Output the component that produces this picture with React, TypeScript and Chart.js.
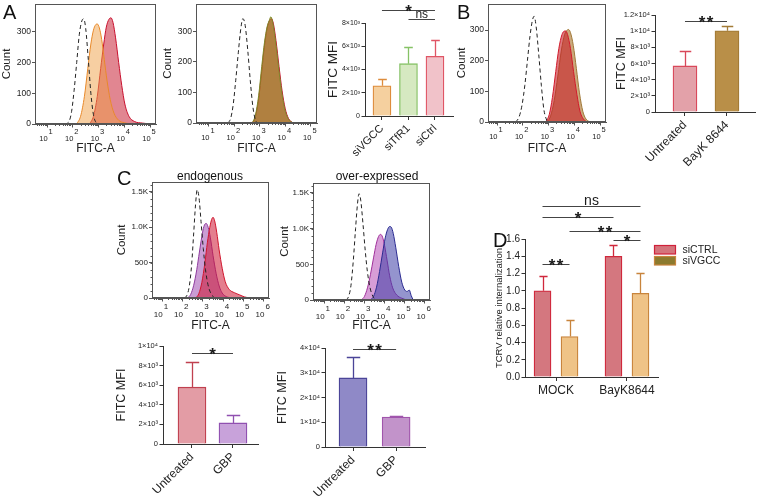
import React, { useEffect, useRef } from 'react';
import { Chart, registerables } from 'chart.js';

Chart.register(...registerables);

const FONT = "'Liberation Sans', Arial, Helvetica, sans-serif";
Chart.defaults.font.family = FONT;
Chart.defaults.color = '#222';
const AXIS = '#555';
const BAR_AXIS = '#333';

// ---------------- Histogram data (x = log10 FITC-A, y = cell count) ----------------
const decadesAB = [1, 2, 3, 4, 5];
const decadesC = [1, 2, 3, 4, 5, 6];
const countTicksAB = [0, 100, 200, 300];
const countTickLabelsAB = ['0', '100', '200', '300'];
const countTicksC = [0, 500, 1000, 1500];
const countTickLabelsC = ['0', '500', '1.0K', '1.5K'];

// Panel A, left histogram
const a1IsoX = [1.70, 1.85, 1.95, 2.05, 2.15, 2.25, 2.35, 2.42, 2.50, 2.60, 2.70, 2.80, 2.90, 3.00];
const a1IsoY = [0, 8, 40, 110, 200, 290, 335, 342, 310, 210, 100, 30, 5, 0];
const a1SiVGCCX = [2.15, 2.30, 2.45, 2.58, 2.70, 2.80, 2.88, 2.95, 3.03, 3.12, 3.22, 3.33, 3.45, 3.60, 3.78, 4.00, 4.30];
const a1SiVGCCY = [0, 25, 90, 180, 260, 305, 322, 325, 312, 275, 210, 140, 80, 35, 12, 4, 0];
const a1SiCtrlX = [2.65, 2.80, 2.95, 3.08, 3.20, 3.30, 3.40, 3.48, 3.56, 3.66, 3.78, 3.90, 4.02, 4.18, 4.40, 4.70, 5.00];
const a1SiCtrlY = [0, 25, 90, 180, 260, 315, 340, 345, 330, 280, 200, 125, 65, 25, 8, 3, 0];

// Panel A, middle histogram
const a2IsoX = [1.75, 1.85, 1.95, 2.05, 2.15, 2.25, 2.33, 2.42, 2.52, 2.62, 2.72, 2.82, 2.92];
const a2IsoY = [0, 15, 60, 140, 230, 310, 342, 320, 240, 140, 55, 10, 0];
const a2SiTfR1X = [2.70, 2.82, 2.95, 3.07, 3.18, 3.28, 3.36, 3.43, 3.50, 3.60, 3.72, 3.84, 3.96, 4.10, 4.30];
const a2SiTfR1Y = [0, 25, 90, 185, 265, 315, 335, 348, 330, 275, 190, 110, 50, 15, 0];
const a2SiCtrlX = [2.70, 2.82, 2.95, 3.07, 3.18, 3.28, 3.37, 3.45, 3.53, 3.63, 3.75, 3.87, 3.99, 4.12, 4.30];
const a2SiCtrlY = [0, 20, 80, 170, 255, 310, 335, 342, 325, 270, 185, 105, 48, 15, 0];

// Panel B histogram
const bIsoX = [1.72, 1.85, 1.97, 2.08, 2.18, 2.28, 2.37, 2.44, 2.52, 2.62, 2.72, 2.82, 2.95];
const bIsoY = [0, 15, 55, 120, 200, 280, 330, 345, 310, 220, 120, 40, 0];
const bUntreatedX = [2.90, 3.03, 3.15, 3.28, 3.40, 3.52, 3.60, 3.66, 3.74, 3.85, 3.97, 4.10, 4.22, 4.35, 4.50];
const bUntreatedY = [0, 25, 80, 165, 240, 285, 296, 297, 285, 240, 165, 90, 35, 10, 0];
const bBayKX = [2.95, 3.08, 3.22, 3.36, 3.50, 3.62, 3.70, 3.77, 3.85, 3.96, 4.08, 4.20, 4.33, 4.45, 4.60];
const bBayKY = [0, 20, 70, 150, 235, 285, 298, 302, 292, 250, 175, 95, 35, 10, 0];

// Panel C, endogenous
const cEndoIsoX = [2.10, 2.22, 2.34, 2.45, 2.55, 2.64, 2.72, 2.81, 2.91, 3.02, 3.13, 3.25, 3.40, 3.58];
const cEndoIsoY = [0, 40, 180, 480, 920, 1320, 1530, 1420, 1080, 700, 400, 190, 60, 0];
const cEndoGBPX = [2.25, 2.40, 2.55, 2.70, 2.83, 2.95, 3.05, 3.16, 3.26, 3.37, 3.50, 3.65, 3.80, 3.95, 4.15, 4.45];
const cEndoGBPY = [0, 50, 180, 400, 650, 870, 1010, 1055, 1000, 850, 600, 350, 170, 70, 20, 0];
const cEndoUntreatedX = [2.65, 2.80, 2.95, 3.10, 3.22, 3.34, 3.43, 3.50, 3.58, 3.68, 3.80, 3.95, 4.10, 4.30, 4.55, 4.80, 5.05, 5.30];
const cEndoUntreatedY = [0, 60, 220, 500, 780, 1000, 1110, 1140, 1090, 930, 680, 420, 230, 120, 75, 45, 15, 0];

// Panel C, over-expressed
const cOverIsoX = [2.08, 2.20, 2.33, 2.45, 2.56, 2.65, 2.73, 2.82, 2.93, 3.04, 3.15, 3.28, 3.43, 3.60];
const cOverIsoY = [0, 40, 200, 560, 1000, 1330, 1490, 1390, 1060, 690, 390, 170, 45, 0];
const cOverGBPX = [2.85, 3.00, 3.15, 3.30, 3.45, 3.58, 3.70, 3.80, 3.90, 4.00, 4.12, 4.25, 4.40, 4.60, 4.85, 5.10];
const cOverGBPY = [0, 50, 170, 360, 590, 780, 890, 920, 880, 760, 560, 340, 170, 70, 25, 0];
const cOverUntreatedX = [3.30, 3.45, 3.60, 3.75, 3.90, 4.03, 4.15, 4.25, 4.33, 4.43, 4.55, 4.70, 4.85, 5.00, 5.12, 5.22, 5.32, 5.42];
const cOverUntreatedY = [0, 50, 180, 400, 660, 870, 990, 1030, 1020, 930, 740, 470, 250, 140, 120, 140, 60, 0];

// ---------------- Bar chart data ----------------
const aCategories = ['siVGCC', 'siTfR1', 'siCtrl'];
const aMFI = [2600, 4500, 5130];
const aMFIErr = [600, 1400, 1370];
const aTicks = [0, 2000, 4000, 6000, 8000];
const aTickLabels = ['0', '2×10³', '4×10³', '6×10³', '8×10³'];

const bCategories = ['Untreated', 'BayK 8644'];
const bMFI = [5700, 10050];
const bMFIErr = [1850, 630];
const bTicks = [0, 2000, 4000, 6000, 8000, 10000, 12000];
const bTickLabels = ['0', '2×10³', '4×10³', '6×10³', '8×10³', '1×10⁴', '1.2×10⁴'];

const cCategories = ['Untreated', 'GBP'];
const cEndoMFI = [5800, 2150];
const cEndoMFIErr = [2550, 800];
const cEndoTicks = [0, 2000, 4000, 6000, 8000, 10000];
const cEndoTickLabels = ['0', '2×10³', '4×10³', '6×10³', '8×10³', '1×10⁴'];
const cOverMFI = [27900, 12100];
const cOverMFIErr = [8500, 400];
const cOverTicks = [0, 10000, 20000, 30000, 40000];
const cOverTickLabels = ['0', '1×10⁴', '2×10⁴', '3×10⁴', '4×10⁴'];

const dCategories = ['MOCK', 'BayK8644'];
const dSeriesNames = ['siCTRL', 'siVGCC'];
const dSiCTRL = [1.0, 1.40];
const dSiCTRLErr = [0.17, 0.13];
const dSiVGCC = [0.47, 0.97];
const dSiVGCCErr = [0.19, 0.24];
const dTicks = [0, 0.2, 0.4, 0.6, 0.8, 1.0, 1.2, 1.4, 1.6];
const dTickLabels = ['0.0', '0.2', '0.4', '0.6', '0.8', '1.0', '1.2', '1.4', '1.6'];

// significance brackets: [category, dataset] ends, height in data units
const aSig = [
  { a: [0, 0], b: [2, 0], y: 9130, text: '*' },
  { a: [1, 0], b: [2, 0], y: 8350, text: 'ns' },
];
const bSig = [{ a: [0, 0], b: [1, 0], y: 11300, text: '**' }];
const cEndoSig = [{ a: [0, 0], b: [1, 0], y: 9300, text: '*' }];
const cOverSig = [{ a: [0, 0], b: [1, 0], y: 39600, text: '**' }];
const dSig = [
  { a: [0, 0], b: [1, 1], y: 1.98, text: 'ns' },
  { a: [0, 0], b: [1, 0], y: 1.855, text: '*' },
  { a: [0, 1], b: [1, 1], y: 1.69, text: '**' },
  { a: [1, 0], b: [1, 1], y: 1.585, text: '*' },
  { a: [0, 0], b: [0, 1], y: 1.305, text: '**' },
];

// ---------------- helpers ----------------
const zip = (xs: number[], ys: number[]) => xs.map((x, i) => ({ x, y: ys[i] }));

function histDecor(decades: number[], yMinor: number | null, base: number, sup: number, fs: number) {
  return {
    id: 'histDecor',
    afterDraw(chart: any) {
      const { ctx, chartArea: a, scales } = chart;
      const x = scales.x, y = scales.y;
      ctx.save();
      ctx.strokeStyle = AXIS;
      ctx.lineWidth = 1;
      const L = Math.round(a.left) + 0.5, R = Math.round(a.right) - 0.5;
      const T = Math.round(a.top) + 0.5, B = Math.round(a.bottom) - 0.5;
      ctx.strokeRect(L, T, R - L, B - T);
      ctx.beginPath();
      for (let d = Math.floor(x.min); d < Math.ceil(x.max); d++) {
        for (let k = 2; k <= 9; k++) {
          const v = d + Math.log10(k);
          if (v <= x.min || v >= x.max) continue;
          const px = Math.round(x.getPixelForValue(v)) + 0.5;
          ctx.moveTo(px, B);
          ctx.lineTo(px, B + 2.5);
        }
      }
      if (yMinor) {
        for (let v = yMinor; v < y.max; v += yMinor) {
          const py = Math.round(y.getPixelForValue(v)) + 0.5;
          ctx.moveTo(L, py);
          ctx.lineTo(L - 2, py);
        }
      }
      ctx.stroke();
      ctx.fillStyle = '#222';
      ctx.textBaseline = 'alphabetic';
      decades.forEach((dv) => {
        const px = x.getPixelForValue(dv);
        ctx.font = `${fs}px ${FONT}`;
        ctx.textAlign = 'right';
        ctx.fillText('10', px + 0.5, a.bottom + base);
        ctx.textAlign = 'left';
        ctx.fillText(String(dv), px + 1.5, a.bottom + sup);
      });
      ctx.restore();
    },
  };
}

type Curve = { label: string; xs: number[]; ys: number[]; fill?: string; stroke: string; dash?: number[] };

function histConfig(p: any): any {
  return {
    type: 'line',
    data: {
      datasets: p.curves.map((c: Curve) => ({
        label: c.label,
        data: zip(c.xs, c.ys),
        borderColor: c.stroke,
        backgroundColor: c.fill || 'rgba(0,0,0,0)',
        fill: c.fill ? 'origin' : false,
        borderDash: c.dash || [],
        borderWidth: 1,
        pointRadius: 0,
        cubicInterpolationMode: 'monotone',
      })),
    },
    options: {
      responsive: false,
      animation: false,
      events: [],
      layout: { padding: { left: 0, top: p.padTop, right: p.padRight, bottom: 0 } },
      plugins: { legend: { display: false }, tooltip: { enabled: false } },
      scales: {
        x: {
          type: 'linear',
          min: p.xMin,
          max: p.xMax,
          afterBuildTicks: (s: any) => { s.ticks = p.decades.map((v: number) => ({ value: v })); },
          afterFit: (s: any) => { s.height = p.xH; s.paddingLeft = 0; s.paddingRight = 0; s.paddingTop = 0; s.paddingBottom = 0; },
          ticks: { display: false },
          grid: { drawOnChartArea: false, drawTicks: true, tickLength: 3.5, color: AXIS },
          border: { color: AXIS },
          title: { display: true, text: 'FITC-A', font: { size: 12 }, padding: { top: 0, bottom: 4 } },
        },
        y: {
          type: 'linear',
          min: 0,
          max: p.yMax,
          afterBuildTicks: (s: any) => { s.ticks = p.yTicks.map((v: number) => ({ value: v })); },
          afterFit: (s: any) => { s.width = p.yW; s.paddingTop = 0; s.paddingBottom = 0; s.paddingLeft = 0; s.paddingRight = 0; },
          ticks: { callback: (_v: any, i: number) => p.yTickLabels[i], font: { size: p.yTickSize }, padding: 1 },
          grid: { drawOnChartArea: false, drawTicks: true, tickLength: 3, color: AXIS },
          border: { color: AXIS },
          title: { display: true, text: 'Count', font: { size: 11.5 }, padding: { top: 0, bottom: 0 } },
        },
      },
    },
    plugins: [histDecor(p.decades, p.yMinor || null, p.labBase, p.labSup, p.labSize)],
  };
}

const errorBars = {
  id: 'errorBars',
  afterDatasetsDraw(chart: any) {
    const ctx = chart.ctx;
    const y = chart.scales.y;
    chart.data.datasets.forEach((ds: any, di: number) => {
      const meta = chart.getDatasetMeta(di);
      meta.data.forEach((bar: any, i: number) => {
        const err = ds.errors ? ds.errors[i] : null;
        if (err == null) return;
        const v = ds.data[i].y;
        const top = Math.round(y.getPixelForValue(v + err)) + 0.5;
        const cap = bar.width * 0.48;
        const cx = Math.round(bar.x) + 0.5;
        ctx.save();
        ctx.strokeStyle = Array.isArray(ds.borderColor) ? ds.borderColor[i] : ds.borderColor;
        ctx.lineWidth = 1.3;
        ctx.beginPath();
        ctx.moveTo(cx, bar.y);
        ctx.lineTo(cx, top);
        ctx.moveTo(cx - cap / 2, top);
        ctx.lineTo(cx + cap / 2, top);
        ctx.stroke();
        ctx.restore();
      });
    });
  },
};

function sigPlugin(items: any[], nsSize: number) {
  return {
    id: 'sigLines',
    afterDraw(chart: any) {
      const ctx = chart.ctx;
      const y = chart.scales.y;
      ctx.save();
      items.forEach((it) => {
        const e1 = chart.getDatasetMeta(it.a[1]).data[it.a[0]];
        const e2 = chart.getDatasetMeta(it.b[1]).data[it.b[0]];
        const x1 = e1.x, x2 = e2.x;
        const py = Math.round(y.getPixelForValue(it.y)) + 0.5;
        ctx.strokeStyle = '#444';
        ctx.lineWidth = 1;
        ctx.beginPath();
        ctx.moveTo(x1, py);
        ctx.lineTo(x2, py);
        ctx.stroke();
        const mx = (x1 + x2) / 2;
        ctx.fillStyle = '#1a1a1a';
        ctx.textBaseline = 'alphabetic';
        ctx.textAlign = 'center';
        if (it.text.indexOf('*') >= 0) {
          ctx.font = `bold 17px ${FONT}`;
          const n = it.text.length;
          const sp = 8;
          for (let k = 0; k < n; k++) {
            ctx.fillText('*', mx + (k - (n - 1) / 2) * sp, py + 6.5);
          }
        } else {
          ctx.font = `${nsSize}px ${FONT}`;
          ctx.fillText(it.text, mx, py - 1.5);
        }
      });
      ctx.restore();
    },
  };
}

function legendPlugin(items: { label: string; fill: string; stroke: string }[]) {
  return {
    id: 'boxLegend',
    afterDraw(chart: any) {
      const { ctx, chartArea: a } = chart;
      ctx.save();
      items.forEach((it, i) => {
        const bx = Math.round(a.right - 4) + 0.5;
        const by = Math.round(a.top + 6 + i * 11) + 0.5;
        ctx.fillStyle = it.fill;
        ctx.fillRect(bx, by, 21, 8.5);
        ctx.strokeStyle = it.stroke;
        ctx.lineWidth = 1.2;
        ctx.strokeRect(bx, by, 21, 8.5);
        ctx.fillStyle = '#222';
        ctx.font = `10.5px ${FONT}`;
        ctx.textAlign = 'left';
        ctx.textBaseline = 'middle';
        ctx.fillText(it.label, bx + 28, by + 4.5);
      });
      ctx.restore();
    },
  };
}

function barConfig(p: any): any {
  return {
    type: 'bar',
    data: {
      datasets: p.series.map((s: any) => ({
        label: s.label,
        data: s.values.map((v: number, i: number) => ({ x: i, y: v })),
        errors: s.errors,
        backgroundColor: s.fill,
        borderColor: s.stroke,
        borderWidth: 1.3,
        barThickness: p.barThickness,
        maxBarThickness: p.maxBarThickness || p.barThickness,
      })),
    },
    options: {
      responsive: false,
      animation: false,
      events: [],
      layout: { padding: { left: 0, top: p.padTop, right: p.padRight, bottom: 0 } },
      plugins: { legend: { display: false }, tooltip: { enabled: false } },
      scales: {
        x: {
          type: 'linear',
          offset: false,
          min: p.xMin,
          max: p.xMax,
          afterBuildTicks: (s: any) => { s.ticks = p.categories.map((_c: string, i: number) => ({ value: i })); },
          afterFit: (s: any) => { s.height = p.xH; s.paddingLeft = 0; s.paddingRight = 0; s.paddingTop = 0; s.paddingBottom = 0; },
          ticks: {
            autoSkip: false,
            callback: (_v: any, i: number) => p.categories[i],
            font: { size: p.xTickSize },
            minRotation: p.rotate ? 45 : 0,
            maxRotation: p.rotate ? 45 : 0,
            padding: 2,
          },
          grid: { drawOnChartArea: false, drawTicks: true, tickLength: 4, color: BAR_AXIS, offset: false },
          border: { color: BAR_AXIS, width: 1 },
        },
        y: {
          type: 'linear',
          min: 0,
          max: p.yMax,
          afterBuildTicks: (s: any) => { s.ticks = p.yTicks.map((v: number) => ({ value: v })); },
          afterFit: (s: any) => { s.width = p.yW; s.paddingTop = 0; s.paddingBottom = 0; s.paddingLeft = 0; s.paddingRight = 0; },
          ticks: { callback: (_v: any, i: number) => p.yTickLabels[i], font: { size: p.yTickSize }, padding: 1.5 },
          grid: { drawOnChartArea: false, drawTicks: true, tickLength: 3.5, color: BAR_AXIS },
          border: { color: BAR_AXIS, width: 1 },
          title: { display: true, text: p.yTitle, font: { size: p.yTitleSize }, padding: { top: p.yTitlePad, bottom: 0 } },
        },
      },
    },
    plugins: [errorBars, sigPlugin(p.sig, p.nsSize || 13)].concat(p.legend ? [legendPlugin(p.legend)] : []),
  };
}

// ---------------- chart configs ----------------
const ISO = { stroke: '#222', dash: [4, 3] };

const makeA1 = () => histConfig({
  curves: [
    { label: 'Isotype', xs: a1IsoX, ys: a1IsoY, ...ISO },
    { label: 'siVGCC', xs: a1SiVGCCX, ys: a1SiVGCCY, fill: 'rgba(240,160,70,0.5)', stroke: '#e8892a' },
    { label: 'siCtrl', xs: a1SiCtrlX, ys: a1SiCtrlY, fill: 'rgba(200,35,55,0.55)', stroke: '#c8102e' },
  ],
  xMin: 0.53, xMax: 5.23, yMax: 390, yTicks: countTicksAB, yTickLabels: countTickLabelsAB, yTickSize: 8.5,
  decades: decadesAB, yW: 35, xH: 36, padTop: 4, padRight: 6, labBase: 16.5, labSup: 9.5, labSize: 7.5,
});

const makeA2 = () => histConfig({
  curves: [
    { label: 'Isotype', xs: a2IsoX, ys: a2IsoY, ...ISO },
    { label: 'siTfR1', xs: a2SiTfR1X, ys: a2SiTfR1Y, fill: 'rgba(135,155,13,0.5)', stroke: '#7f8a2a' },
    { label: 'siCtrl', xs: a2SiCtrlX, ys: a2SiCtrlY, fill: 'rgba(200,35,55,0.7)', stroke: '#c8102e' },
  ],
  xMin: 0.49, xMax: 5.24, yMax: 390, yTicks: countTicksAB, yTickLabels: countTickLabelsAB, yTickSize: 8.5,
  decades: decadesAB, yW: 35, xH: 37, padTop: 4, padRight: 6, labBase: 16.5, labSup: 9.5, labSize: 7.5,
});

const makeBHist = () => histConfig({
  curves: [
    { label: 'Isotype', xs: bIsoX, ys: bIsoY, ...ISO },
    { label: 'Untreated', xs: bUntreatedX, ys: bUntreatedY, fill: 'rgba(200,30,40,0.6)', stroke: '#d01a2a' },
    { label: 'BayK 8644', xs: bBayKX, ys: bBayKY, fill: 'rgba(185,140,80,0.75)', stroke: '#a07838' },
  ],
  xMin: 0.65, xMax: 5.23, yMax: 385, yTicks: countTicksAB, yTickLabels: countTickLabelsAB, yTickSize: 8.5,
  decades: decadesAB, yW: 33, xH: 38, padTop: 4, padRight: 6, labBase: 17, labSup: 9.5, labSize: 7.5,
});

const makeCEndoHist = () => histConfig({
  curves: [
    { label: 'Isotype', xs: cEndoIsoX, ys: cEndoIsoY, ...ISO },
    { label: 'Untreated', xs: cEndoUntreatedX, ys: cEndoUntreatedY, fill: 'rgba(205,20,50,0.55)', stroke: '#d0142c' },
    { label: 'GBP', xs: cEndoGBPX, ys: cEndoGBPY, fill: 'rgba(150,60,170,0.5)', stroke: '#8e3a9e' },
  ],
  xMin: 0.5, xMax: 6.25, yMax: 1640, yTicks: countTicksC, yTickLabels: countTickLabelsC, yTickSize: 8, yMinor: 100,
  decades: decadesC, yW: 37, xH: 39, padTop: 4, padRight: 6, labBase: 18.5, labSup: 11, labSize: 8,
});

const makeCOverHist = () => histConfig({
  curves: [
    { label: 'Isotype', xs: cOverIsoX, ys: cOverIsoY, ...ISO },
    { label: 'Untreated', xs: cOverUntreatedX, ys: cOverUntreatedY, fill: 'rgba(60,60,165,0.55)', stroke: '#2a2a90' },
    { label: 'GBP', xs: cOverGBPX, ys: cOverGBPY, fill: 'rgba(175,60,175,0.5)', stroke: '#a0309a' },
  ],
  xMin: 0.45, xMax: 6.25, yMax: 1640, yTicks: countTicksC, yTickLabels: countTickLabelsC, yTickSize: 8, yMinor: 100,
  decades: decadesC, yW: 35, xH: 37, padTop: 5, padRight: 6, labBase: 18.5, labSup: 11, labSize: 8,
});

const makeABar = () => barConfig({
  categories: aCategories,
  series: [{ label: 'FITC MFI', values: aMFI, errors: aMFIErr, fill: ['#f5d09f', '#d6e9c1', '#f1c2c9'], stroke: ['#dd8c3c', '#86c266', '#e05565'] }],
  xMin: -0.64, xMax: 2.68, yMax: 8000, yTicks: aTicks, yTickLabels: aTickLabels, yTickSize: 7,
  yTitle: 'FITC MFI', yTitleSize: 13.5, yTitlePad: 0, xTickSize: 11, rotate: true,
  yW: 40, xH: 54, padTop: 23, padRight: 7, barThickness: 18, sig: aSig, nsSize: 12,
});

const makeBBar = () => barConfig({
  categories: bCategories,
  series: [{ label: 'FITC MFI', values: bMFI, errors: bMFIErr, fill: ['#e3a1a9', '#b98f48'], stroke: ['#d9485a', '#a37b36'] }],
  xMin: -0.714, xMax: 1.667, yMax: 12000, yTicks: bTicks, yTickLabels: bTickLabels, yTickSize: 7.5,
  yTitle: 'FITC MFI', yTitleSize: 12.5, yTitlePad: 1.5, xTickSize: 12, rotate: true,
  yW: 42, xH: 63, padTop: 15, padRight: 2, barThickness: 24, sig: bSig,
});

const makeCEndoBar = () => barConfig({
  categories: cCategories,
  series: [{ label: 'FITC MFI', values: cEndoMFI, errors: cEndoMFIErr, fill: ['#e39ca5', '#c8a2da'], stroke: ['#c0404f', '#9050b0'] }],
  xMin: -0.707, xMax: 1.61, yMax: 10000, yTicks: cEndoTicks, yTickLabels: cEndoTickLabels, yTickSize: 7.5,
  yTitle: 'FITC MFI', yTitleSize: 12.5, yTitlePad: 4.5, xTickSize: 12, rotate: true,
  yW: 53, xH: 52, padTop: 9, padRight: 7, barThickness: 28, sig: cEndoSig,
});

const makeCOverBar = () => barConfig({
  categories: cCategories,
  series: [{ label: 'FITC MFI', values: cOverMFI, errors: cOverMFIErr, fill: ['#8f89c7', '#c293ca'], stroke: ['#4b4598', '#a055ac'] }],
  xMin: -0.65, xMax: 1.67, yMax: 40000, yTicks: cOverTicks, yTickLabels: cOverTickLabels, yTickSize: 7.5,
  yTitle: 'FITC MFI', yTitleSize: 12.5, yTitlePad: 5.5, xTickSize: 12, rotate: true,
  yW: 55, xH: 49, padTop: 11, padRight: 5, barThickness: 28, sig: cOverSig,
});

const makeD = () => barConfig({
  categories: dCategories,
  series: [
    { label: dSeriesNames[0], values: dSiCTRL, errors: dSiCTRLErr, fill: '#d4777f', stroke: '#d0283c' },
    { label: dSeriesNames[1], values: dSiVGCC, errors: dSiVGCCErr, fill: '#efc387', stroke: '#c8843c' },
  ],
  xMin: -0.437, xMax: 1.437, yMax: 1.6, yTicks: dTicks, yTickLabels: dTickLabels, yTickSize: 10,
  yTitle: 'TCRV relative internalization', yTitleSize: 9.5, yTitlePad: 0, xTickSize: 12, rotate: false,
  yW: 31, xH: 28, padTop: 44, padRight: 99, barThickness: 27, maxBarThickness: 17, sig: dSig, nsSize: 14,
  legend: [
    { label: dSeriesNames[0], fill: '#d4747c', stroke: '#d0203a' },
    { label: dSeriesNames[1], fill: '#8c7a2e', stroke: '#c8843c' },
  ],
});

// ---------------- components ----------------
function ChartCanvas({ left, top, width, height, make }: { left: number; top: number; width: number; height: number; make: () => any }) {
  const ref = useRef<HTMLCanvasElement | null>(null);
  useEffect(() => {
    const chart = new Chart(ref.current as HTMLCanvasElement, make());
    return () => chart.destroy();
  }, []);
  return (
    <canvas
      ref={ref}
      width={width}
      height={height}
      style={{ position: 'absolute', left, top, width, height }}
    />
  );
}

function Txt({ left, top, size, children, width, center }: any) {
  return (
    <div
      style={{
        position: 'absolute',
        left,
        top,
        width,
        fontSize: size,
        lineHeight: `${size}px`,
        fontFamily: FONT,
        color: '#111',
        textAlign: center ? 'center' : 'left',
        whiteSpace: 'nowrap',
      }}
    >
      {children}
    </div>
  );
}

export default function App() {
  return (
    <div style={{ position: 'absolute', left: 0, top: 0, width: 757, height: 496, background: '#fff', overflow: 'hidden' }}>
      <ChartCanvas left={0} top={0} width={162} height={160} make={makeA1} />
      <ChartCanvas left={161} top={0} width={162} height={160} make={makeA2} />
      <ChartCanvas left={325} top={0} width={135} height={170} make={makeABar} />
      <ChartCanvas left={455} top={0} width={157} height={160} make={makeBHist} />
      <ChartCanvas left={613} top={0} width={144} height={175} make={makeBBar} />
      <ChartCanvas left={115} top={178} width={160} height={159} make={makeCEndoHist} />
      <ChartCanvas left={278} top={178} width={158} height={159} make={makeCOverHist} />
      <ChartCanvas left={110} top={337} width={155} height={159} make={makeCEndoBar} />
      <ChartCanvas left={270} top={337} width={160} height={159} make={makeCOverBar} />
      <ChartCanvas left={494} top={195} width={263} height={210} make={makeD} />
      <Txt left={3} top={2.4} size={20}>A</Txt>
      <Txt left={457} top={2.4} size={20}>B</Txt>
      <Txt left={117} top={168.4} size={20}>C</Txt>
      <Txt left={493} top={230.4} size={20}>D</Txt>
      <Txt left={150} top={170} size={12} width={120} center>endogenous</Txt>
      <Txt left={317} top={170} size={12} width={120} center>over-expressed</Txt>
    </div>
  );
}
